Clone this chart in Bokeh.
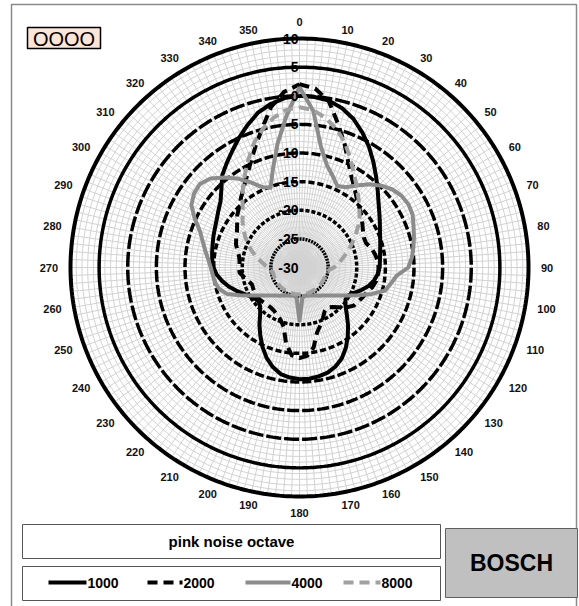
import numpy as np
from bokeh.plotting import figure
from bokeh.models import Range1d
from bokeh.core.properties import value
from bokeh.embed import file_html
from bokeh.resources import INLINE

# ---------------- data ----------------
angles = list(range(0, 360, 5))

s1000 = [0, -0.1, -0.4, -1.2, -2.4, -4, -5.7, -7.5, -9.2, -10.7, -12, -13, -13.8, -14.5, -15, -15.4,
         -15.7, -15.9, -16, -16.3, -16.8, -17.5, -18.5, -19.5, -20.2, -20.2, -19.5, -18.3, -16.8, -15.3,
         -13.8, -12.5, -11.6, -11, -10.7, -10.5, -10.5, -10.7, -11.1, -12, -13.2, -14.7, -16.3, -17.8,
         -19.3, -20.3, -20.7, -20.5, -20, -19.2, -18.2, -17.2, -16.3, -15.5, -15, -14.7, -14.5, -14.3,
         -14, -13.7, -13.3, -12.7, -12, -10.7, -9, -7.8, -6.5, -5, -3.5, -2, -1, -0.3]

s2000 = [2.0, 1.4, -0.5, -4.0, -7.0, -9.8, -11.8, -13.2, -14.4, -15.2, -15.9, -16.6, -17.2, -17.6,
         -17.6, -17.0, -16.6, -16.3, -16.2, -16.2, -16.4, -16.8, -17.4, -17.8, -18.1, -18.4, -19.2,
         -20.2, -21, -21.5, -21.2, -20.3, -19.3, -18.2, -15.8, -14.5, -14.2, -14.6, -16.5, -19.3,
         -20.3, -20.8, -21.2, -21.4, -21.4, -21.3, -21.1, -21, -21, -21.1, -21.2, -20.8, -20.2, -19.5,
         -19.4, -19.5, -19.3, -18.8, -18.2, -17.8, -17.4, -16.7, -15.8, -15.1, -14.1, -13, -11.6,
         -9.8, -7.5, -4.8, -1.5, 0.8]

s4000 = [1.5, -2.5, -8.5, -11.5, -13, -14.3, -13.8, -12.5, -11, -9.8, -8.8, -8.2, -8, -8.2, -8.8,
         -9.3, -9.8, -10.3, -11, -13, -13.8, -14.5, -16.5, -18.5, -20.2, -21.5, -22.4, -23.1, -23.6,
         -24, -24.4, -24.6, -24.8, -24.9, -25, -24.5, -20.7, -24.5, -25, -24.9, -24.8, -24.6, -24.4,
         -24, -23.6, -23.1, -22.4, -21.5, -20.2, -18.5, -16.5, -15.5, -15, -14.8, -14.5, -14, -13.3,
         -12.5, -11.5, -9.8, -8.2, -7.5, -7.3, -8, -9.5, -11, -12.8, -14.5, -15.2, -12.1, -8, -3.5]

s8000 = [-2, -2.4, -3.5, -5, -6.8, -9, -11, -12.6, -14, -15.2, -16.3, -17.5, -18.7, -19.8, -20.8,
         -21.8, -22.6, -23.2, -24, -24.8, -25.3, -25.3, -25.3, -25.3, -25.3, -25.3, -25.3, -25.3,
         -25.3, -25.3, -25.3, -25.3, -25.3, -25.3, -25.3, -25.3, -25.3, -25.3, -25.3, -25.3, -25.3,
         -25.3, -25.3, -25.3, -25.3, -25.3, -25.3, -25.3, -25.3, -25.3, -25.3, -25.3, -25.3, -24.8,
         -24.5, -23.8, -23, -22, -21, -20, -19, -18, -17, -16, -14.5, -12.8, -11, -9, -6.8, -5, -3.5,
         -2.4]

series_names = ["1000", "2000", "4000", "8000"]
ring_levels = [10, 5, 0, -5, -10, -15, -20, -25]
ring_labels = ["10", "5", "0", "-5", "-10", "-15", "-20", "-25", "-30"]
ring_label_values = [10, 5, 0, -5, -10, -15, -20, -25, -30]
angle_ticks = list(range(0, 360, 10))
title_text = "pink noise octave"
brand_text = "BOSCH"
badge_text = "OOOO"

# ---------------- geometry helpers ----------------
RMIN = -30.0
K = 229.0 / 40.0          # px per dB
CX, CY = 299.0, 267.0     # centre in px
W, H = 579, 606


def X(px):
    return (px - CX) / K


def Y(py):
    return (CY - py) / K


def polar(vals, angs, close=True):
    r = np.asarray(vals, float) - RMIN
    t = np.radians(np.asarray(angs, float))
    x = r * np.sin(t)
    y = r * np.cos(t)
    if close:
        x = np.append(x, x[0])
        y = np.append(y, y[0])
    return x, y


p = figure(width=W, height=H, output_backend="svg", toolbar_location=None,
           x_range=Range1d(X(0), X(W)), y_range=Range1d(Y(H), Y(0)),
           x_axis_location=None, y_axis_location=None, min_border=0)
p.xgrid.visible = False
p.ygrid.visible = False
p.outline_line_color = None
p.background_fill_color = "white"
p.border_fill_color = "white"

# outer frame
p.quad(left=[X(11)], right=[X(576)], top=[Y(4)], bottom=[Y(640)],
       fill_color=None, line_color="#8a8a8a", line_width=1.5)

# minor rings (every 1 dB)
full = np.arange(0, 361, 1)
for lvl in range(-29, 10):
    x, y = polar([lvl] * len(full), full, close=False)
    p.line(x, y, line_color="#d2d2d2", line_width=1)

# spokes every 2 deg
sp = np.radians(np.arange(0, 360, 2))
R = 40
p.segment(x0=np.zeros(len(sp)), y0=np.zeros(len(sp)), x1=R * np.sin(sp), y1=R * np.cos(sp),
          line_color="#d2d2d2", line_width=1)

# major rings
for lvl in ring_levels:
    x, y = polar([lvl] * len(full), full, close=False)
    rpx = (lvl - RMIN) * K
    if lvl >= 5:
        p.line(x, y, line_color="black", line_width=4 if lvl == 10 else 3.5)
    else:
        period = rpx * np.radians(6)
        gap = int(round(min(max(period * 0.3, 1), 3)))
        dash = max(int(round(period - gap)), 1)
        p.line(x, y, line_color="black", line_width=3.5, line_dash=f"{dash} {gap}")

# data series
styles = [
    dict(line_color="black", line_width=4),
    dict(line_color="black", line_width=4, line_dash="10 6"),
    dict(line_color="#8c8c8c", line_width=4),
    dict(line_color="#a0a0a0", line_width=4, line_dash="10 6"),
]
for vals, st in zip([s1000, s2000, s4000, s8000], styles):
    x, y = polar(vals, angles)
    p.line(x, y, line_join="round", **st)

# ring labels
p.text(x=[X(298)] * len(ring_labels), y=[v - RMIN for v in ring_label_values], text=ring_labels,
       text_align="right", text_baseline="middle", text_font=value("Liberation Sans"),
       text_font_style="bold", text_font_size="14px", text_color="black")

# angle labels (anchored just outside the outer ring, Excel style)
RL = 241.5 / K
lab_font = dict(text_font=value("Liberation Sans"), text_font_style="bold",
                text_font_size="11px", text_color="#111111")
groups = [
    ([a for a in angle_ticks if 0 < a < 180], "left", "middle"),
    ([a for a in angle_ticks if 180 < a < 360], "right", "middle"),
    ([a for a in angle_ticks if a == 0], "center", "bottom"),
    ([a for a in angle_ticks if a == 180], "center", "top"),
]
for angs, al, bl in groups:
    t = np.radians(angs)
    p.text(x=RL * np.sin(t), y=RL * np.cos(t), text=[str(a) for a in angs],
           text_align=al, text_baseline=bl, **lab_font)

# badge box
p.quad(left=[X(27)], right=[X(100)], top=[Y(27)], bottom=[Y(48)],
       fill_color="#fce4d6", line_color="black", line_width=1.5)
p.text(x=[X(63.5)], y=[Y(38)], text=[badge_text], text_align="center", text_baseline="middle",
       text_font=value("Liberation Sans"), text_font_size="20px", text_color="black")

# title box
p.quad(left=[X(22)], right=[X(440)], top=[Y(524)], bottom=[Y(558)],
       fill_color="white", line_color="#555555", line_width=1)
p.text(x=[X(231)], y=[Y(541)], text=[title_text], text_align="center", text_baseline="middle",
       text_font=value("Liberation Sans"), text_font_style="bold", text_font_size="15px",
       text_color="black")

# legend box
p.quad(left=[X(22)], right=[X(440)], top=[Y(566)], bottom=[Y(600)],
       fill_color="white", line_color="#555555", line_width=1)
leg_x0 = [48, 147, 245, 343]
leg_x1 = [86, 182, 290, 380]
for name, st, a, b in zip(series_names, styles, leg_x0, leg_x1):
    p.line([X(a), X(b)], [Y(582), Y(582)], **st)
    p.text(x=[X(b + 1)], y=[Y(582)], text=[name], text_align="left", text_baseline="middle",
           text_font=value("Liberation Sans"), text_font_style="bold", text_font_size="14px",
           text_color="black")

# brand box
p.quad(left=[X(445)], right=[X(577)], top=[Y(528)], bottom=[Y(597)],
       fill_color="#c0c0c0", line_color="#606060", line_width=1)
p.text(x=[X(511)], y=[Y(562)], text=[brand_text], text_align="center", text_baseline="middle",
       text_font=value("Liberation Sans"), text_font_style="bold", text_font_size="23px",
       text_color="black")

open("out.html", "w").write(file_html(p, INLINE))
